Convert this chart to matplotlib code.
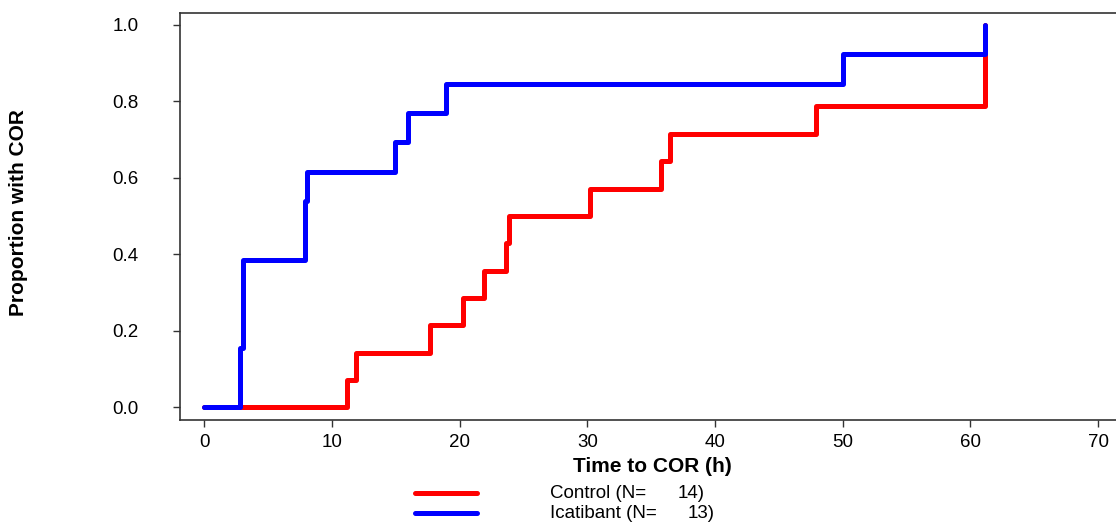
import matplotlib
matplotlib.use("Agg")
import matplotlib.pyplot as plt
from matplotlib.lines import Line2D

plt.rcParams['font.family'] = ['Liberation Sans', 'DejaVu Sans']

# Kaplan-Meier style cumulative proportion with COR
control_times = [0.0, 11.2, 11.9, 17.66, 20.27, 21.9, 23.66, 23.85, 30.2, 35.8, 36.45, 47.9, 61.1]
control_prop = [0.0, 0.071, 0.143, 0.214, 0.286, 0.357, 0.429, 0.5, 0.571, 0.643, 0.714, 0.786, 1.0]

icatibant_times = [0.0, 2.83, 3.0, 7.9, 8.05, 14.9, 15.96, 18.9, 50.0, 61.1]
icatibant_prop = [0.0, 0.154, 0.385, 0.538, 0.615, 0.692, 0.769, 0.846, 0.923, 1.0]

legend_names = ["Control (N=", "Icatibant (N="]
legend_counts = ["14)", "13)"]
x_ticks = [0, 10, 20, 30, 40, 50, 60, 70]
y_ticks = [0.0, 0.2, 0.4, 0.6, 0.8, 1.0]

W, H = 1116, 526
fig = plt.figure(figsize=(W / 100, H / 100), dpi=100)
ax = fig.add_axes([180 / W, (H - 420) / H, (1118 - 180) / W, (420 - 12.7) / H])

lw = 3.6
ax.step(control_times, control_prop, where='post', color='#ff0000', lw=lw,
        solid_capstyle='round', zorder=2)
ax.step(icatibant_times, icatibant_prop, where='post', color='#0000ff', lw=lw,
        solid_capstyle='round', zorder=3)

ax.set_xlim(-1.9, 71.55)
ax.set_ylim(-0.033, 1.031)
ax.set_xticks(x_ticks)
ax.set_yticks(y_ticks)
ax.set_yticklabels([f"{v:.1f}" for v in y_ticks])
ax.tick_params(axis='x', length=5, width=1, pad=5, labelsize=13.5, color='#333333')
ax.tick_params(axis='y', length=5, width=1, pad=25, labelsize=13.5, color='#333333')
for s in ax.spines.values():
    s.set_color('#333333')
    s.set_linewidth(1.2)

fig.text(19 / W, 1 - 213 / H, "Proportion with COR", rotation=90, ha='center', va='center',
         fontsize=15, fontweight='bold')
fig.text(652 / W, 1 - 467 / H, "Time to COR (h)", ha='center', va='center',
         fontsize=15, fontweight='bold')

colors = ['#ff0000', '#0000ff']
ys = [493, 513]
count_right = [705, 715]
for name, cnt, c, y, xr in zip(legend_names, legend_counts, colors, ys, count_right):
    fig.add_artist(Line2D([415 / W, 477 / W], [1 - y / H, 1 - y / H], color=c, lw=lw,
                          solid_capstyle='round', transform=fig.transFigure))
    fig.text(550 / W, 1 - y / H, name, ha='left', va='center', fontsize=13.5)
    fig.text(xr / W, 1 - y / H, cnt, ha='right', va='center', fontsize=13.5)

fig.savefig("out.png", dpi=100)
